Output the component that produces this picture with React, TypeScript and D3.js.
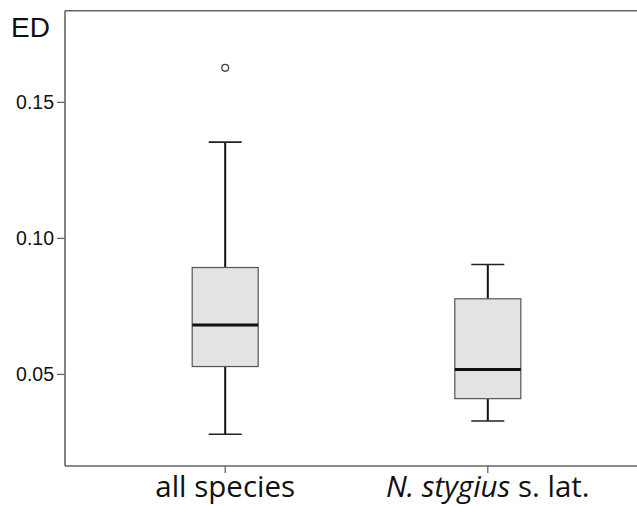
import { useEffect, useRef } from 'react';
import * as d3 from 'd3';

// box plot values
const groups = ['all species', 'N. stygius s. lat.'];
const whiskerLow = [0.028, 0.0329];
const q1 = [0.0529, 0.0411];
const median = [0.0682, 0.0518];
const q3 = [0.0893, 0.0778];
const whiskerHigh = [0.1354, 0.0904];
const outliers = [[0.1627], []];
const yTicks = [0.05, 0.1, 0.15];

const W = 637, H = 506;

const App = () => {
  const svgRef = useRef<SVGSVGElement>(null);

  useEffect(() => {
    document.body.style.margin = '0';
    const svg = d3.select(svgRef.current);
    svg.selectAll('*').remove();

    const left = 65, top = 10.7, bottom = 466;

    const y = d3.scaleLinear().domain([0.01634, 0.1837]).range([bottom, top]);
    const x = d3.scalePoint().domain(groups).range([left, 648]).padding(0.61);

    const boxW = 66, capW = 33;
    const axisColor = '#666';

    const g = svg.append('g');

    groups.forEach((name, i) => {
      const cx = x(name)!;
      // whiskers
      g.append('line').attr('x1', cx).attr('x2', cx)
        .attr('y1', y(q3[i])).attr('y2', y(whiskerHigh[i]))
        .attr('stroke', '#111').attr('stroke-width', 2);
      g.append('line').attr('x1', cx).attr('x2', cx)
        .attr('y1', y(q1[i])).attr('y2', y(whiskerLow[i]))
        .attr('stroke', '#111').attr('stroke-width', 2);
      [whiskerHigh[i], whiskerLow[i]].forEach(v => {
        g.append('line').attr('x1', cx - capW / 2).attr('x2', cx + capW / 2)
          .attr('y1', y(v)).attr('y2', y(v))
          .attr('stroke', '#222').attr('stroke-width', 1.6);
      });
      // box
      g.append('rect')
        .attr('x', cx - boxW / 2).attr('width', boxW)
        .attr('y', y(q3[i])).attr('height', y(q1[i]) - y(q3[i]))
        .attr('fill', '#e3e3e3').attr('stroke', '#555').attr('stroke-width', 1.2);
      g.append('line').attr('x1', cx - boxW / 2).attr('x2', cx + boxW / 2)
        .attr('y1', y(median[i])).attr('y2', y(median[i]))
        .attr('stroke', '#111').attr('stroke-width', 3);
      outliers[i].forEach(v => {
        g.append('circle').attr('cx', cx).attr('cy', y(v)).attr('r', 3.4)
          .attr('fill', 'white').attr('stroke', '#444').attr('stroke-width', 1.3);
      });
    });

    // frame
    const frame = svg.append('g').attr('stroke', axisColor).attr('stroke-width', 1.6).attr('fill', 'none');
    frame.append('line').attr('x1', left).attr('x2', W).attr('y1', top).attr('y2', top);
    frame.append('line').attr('x1', left).attr('x2', left).attr('y1', top).attr('y2', bottom);
    frame.append('line').attr('x1', left).attr('x2', W).attr('y1', bottom).attr('y2', bottom);

    // y ticks
    yTicks.forEach(t => {
      svg.append('line').attr('x1', left - 8).attr('x2', left)
        .attr('y1', y(t)).attr('y2', y(t)).attr('stroke', axisColor).attr('stroke-width', 1.3);
      svg.append('text').attr('x', left - 11).attr('y', y(t)).attr('dy', '0.36em')
        .attr('text-anchor', 'end').attr('font-family', 'Liberation Sans, Arial, sans-serif')
        .attr('font-size', 19.5).attr('fill', '#111').text(d3.format('.2f')(t));
    });

    svg.append('text').attr('x', 11).attr('y', 36.5)
      .attr('font-family', 'Liberation Sans, Arial, sans-serif').attr('font-size', 28)
      .attr('fill', '#111').text('ED');

    // x ticks & labels
    groups.forEach((name, i) => {
      const cx = x(name)!;
      svg.append('line').attr('x1', cx).attr('x2', cx).attr('y1', bottom).attr('y2', bottom + 7)
        .attr('stroke', axisColor).attr('stroke-width', 1.3);
      const t = svg.append('text').attr('x', cx).attr('y', 497)
        .attr('text-anchor', 'middle').attr('font-family', 'Open Sans, Noto Sans, sans-serif')
        .attr('font-size', 29.5).attr('fill', '#111');
      if (i === 0) {
        t.text(name);
      } else {
        t.append('tspan').attr('font-style', 'italic').text('N. stygius');
        t.append('tspan').text(' s. lat.');
      }
    });
  }, []);

  return <svg ref={svgRef} width={W} height={H} style={{ display: 'block', background: '#fff' }} />;
};

export default App;
